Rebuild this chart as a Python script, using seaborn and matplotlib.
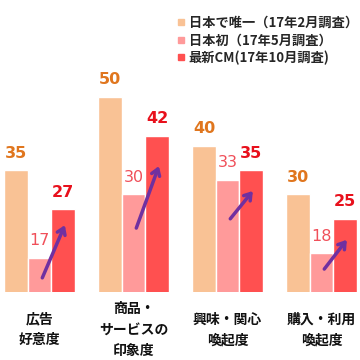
import pandas as pd
import matplotlib.pyplot as plt
import seaborn as sns
from matplotlib.lines import Line2D

# データ
categories = ['広告\n好意度', '商品・\nサービスの\n印象度', '興味・関心\n喚起度', '購入・利用\n喚起度']
series = ['日本で唯一（17年2月調査）', '日本初（17年5月調査）', '最新CM(17年10月調査)']
v_feb = [35, 50, 40, 30]
v_may = [17, 30, 33, 18]
v_oct = [27, 42, 35, 25]
# 矢印（始点・終点の値）
arrow_lo = [12.9, 23.1, 25.0, 14.7]
arrow_hi = [23.7, 35.8, 30.7, 20.7]

bar_colors = ['#F9C295', '#FF9A9A', '#FF5050']
text_colors = ['#E0761E', '#F0505A', '#E8101C']
text_weights = ['bold', 'normal', 'bold']

df = pd.DataFrame({
    'cat': categories * 3,
    'series': [s for s in series for _ in categories],
    'value': v_feb + v_may + v_oct,
})

sns.set_style('white')
plt.rcParams['font.family'] = ['Noto Sans CJK JP', 'DejaVu Sans']

fig = plt.figure(figsize=(3.6, 3.6), dpi=100)
ax = fig.add_axes([0, 68 / 360, 1, 292 / 360])

sns.barplot(data=df, x='cat', y='value', hue='series', palette=bar_colors,
            width=0.75, gap=0, saturation=1, legend=False, ax=ax)

ax.set_ylim(10, 10 + 292 / 4.88)
ax.set_xlim(-0.42, 3.41)
ax.axis('off')

offsets = [-0.25, 0, 0.25]
for j, vals in enumerate([v_feb, v_may, v_oct]):
    for i, v in enumerate(vals):
        ax.annotate(str(v), (i + offsets[j], v), xytext=(0, 12.2), textcoords='offset points',
                    ha='center', va='center', fontsize=11.5, color=text_colors[j],
                    fontweight=text_weights[j], family=['DejaVu Sans'])

for i in range(len(categories)):
    ax.annotate('', xy=(i + 0.27, arrow_hi[i]), xytext=(i + 0.03, arrow_lo[i]),
                arrowprops=dict(arrowstyle='->,head_length=0.45,head_width=0.3',
                                color='#7030A0', lw=2.5, shrinkA=0, shrinkB=0))
    ax.text(i, -0.13, categories[i], transform=ax.get_xaxis_transform(),
            ha='center', va='center', fontsize=10, fontweight='bold',
            linespacing=1.62, color='#111111')

handles = [Line2D([], [], marker='s', linestyle='', markersize=5, color=c) for c in bar_colors]
fig.legend(handles, series, loc='upper left', bbox_to_anchor=(177 / 360, 1 - 16 / 360),
           frameon=False, prop={'weight': 'bold', 'size': 9.5},
           handlelength=0.6, handletextpad=0.3, labelspacing=0.25, borderpad=0, borderaxespad=0)

fig.savefig('out.png', dpi=100)
